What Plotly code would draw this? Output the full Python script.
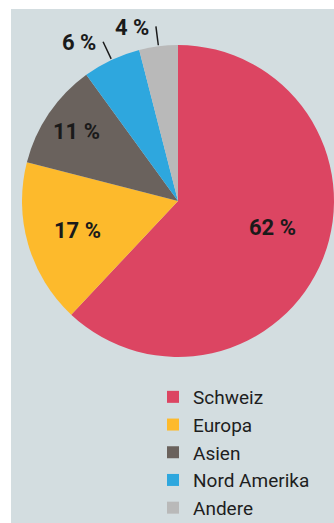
import math
import plotly.graph_objects as go

# ---- data ----
regions = ["Schweiz", "Europa", "Asien", "Nord Amerika", "Andere"]
shares = [62, 17, 11, 6, 4]
colors = ["#dc4562", "#fdba2c", "#6a625d", "#2ea7de", "#b9b9b9"]
label_inside = [True, True, True, False, False]

# ---- layout constants ----
W, H = 334, 523
CX, CY, R = 178, 201, 156
BG = "#d3dde0"
FONT = "Roboto, 'Open Sans', sans-serif"
LABEL_FONT = dict(family=FONT, size=22, color="#1a1a1a", weight="bold")
inside_r = [0.63, 0.67, 0.79, 0, 0]       # radial position of inside labels (fraction of radius)
inside_turn = [-6, 0, 0, 0, 0]            # small angular nudge of inside labels (degrees)

fig = go.Figure(
    go.Pie(
        labels=regions,
        values=shares,
        sort=False,
        direction="clockwise",
        rotation=0,
        marker=dict(colors=colors, line=dict(width=0)),
        textinfo="none",
        domain=dict(x=[(CX - R) / W, min(1, (CX + R) / W)], y=[1 - (CY + R) / H, 1 - (CY - R) / H]),
        hoverinfo="label+percent",
    )
)

total = sum(shares)
cum = 0
shapes = [
    dict(type="rect", xref="paper", yref="paper", x0=11 / W, x1=1, y0=0, y1=1 - 9 / H,
         fillcolor=BG, line=dict(width=0), layer="below")
]
annotations = []
for v, ins, fr, turn in zip(shares, label_inside, inside_r, inside_turn):
    mid = (cum + v / 2) / total * 2 * math.pi
    cum += v
    if ins:
        a = mid + math.radians(turn)
        px, py = CX + fr * R * math.sin(a), CY - fr * R * math.cos(a)
        annotations.append(dict(xref="paper", yref="paper", x=px / W, y=1 - py / H,
                                text=f"{v} %", showarrow=False, xanchor="center", yanchor="middle",
                                font=LABEL_FONT))
        continue
    r1, r2 = R + 1, R + 20
    x1p, y1p = CX + r1 * math.sin(mid), CY - r1 * math.cos(mid)
    x2p, y2p = CX + r2 * math.sin(mid), CY - r2 * math.cos(mid)
    shapes.append(dict(type="line", xref="paper", yref="paper",
                       x0=x1p / W, y0=1 - y1p / H, x1=x2p / W, y1=1 - y2p / H,
                       line=dict(color="#1a1a1a", width=1.5)))
    annotations.append(dict(xref="paper", yref="paper", x=x2p / W, y=1 - y2p / H,
                            text=f"{v} %", showarrow=False, xanchor="right", yanchor="middle",
                            xshift=-5, yshift=-1, font=LABEL_FONT))

fig.update_layout(
    width=W, height=H,
    margin=dict(l=0, r=0, t=0, b=0, autoexpand=False),
    paper_bgcolor="white",
    plot_bgcolor="white",
    shapes=shapes,
    annotations=annotations,
    showlegend=True,
    legend=dict(x=153 / W, y=1 - 378 / H, xanchor="left", yanchor="top",
                bgcolor="rgba(0,0,0,0)", font=dict(family=FONT, size=19, color="#1e1e1e"),
                traceorder="normal"),
)

fig.write_html("out.html")
